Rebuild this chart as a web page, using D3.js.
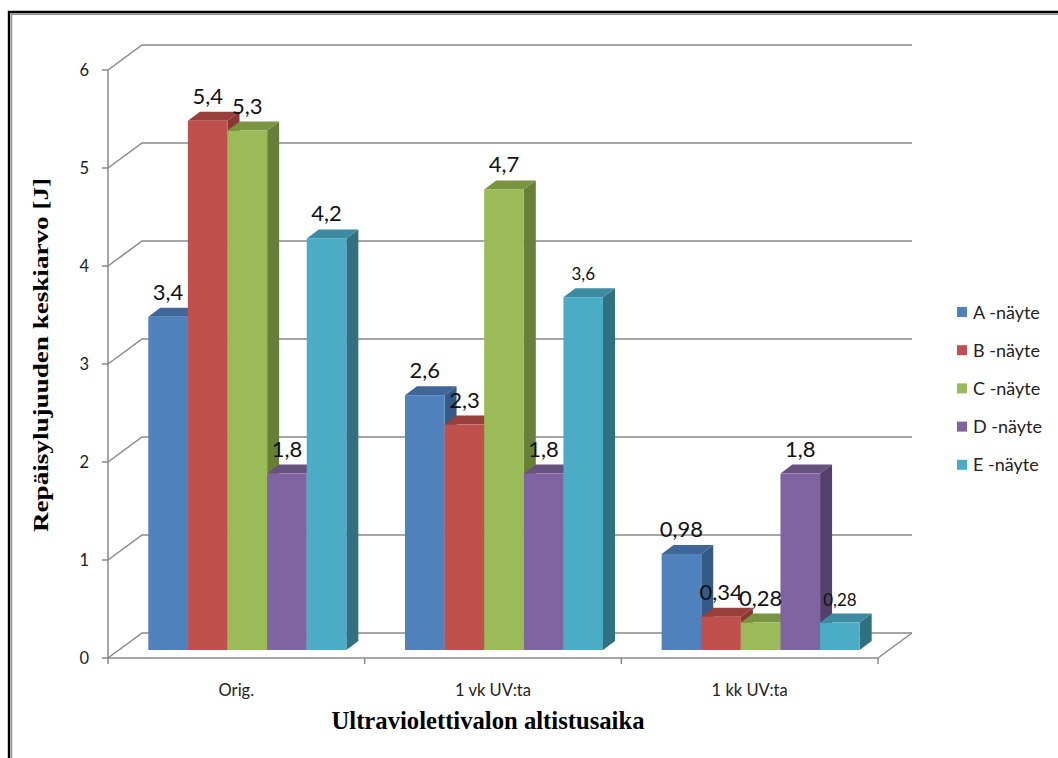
<!DOCTYPE html>
<html>
<head>
<meta charset="utf-8">
<script src="https://cdn.jsdelivr.net/npm/d3@7"></script>
<style>
  html, body { margin: 0; padding: 0; background: #fff; }
  svg { display: block; }
</style>
</head>
<body>
<script>
// Tear strength means per sample after UV exposure
const categories = ["Orig.", "1 vk UV:ta", "1 kk UV:ta"];
const seriesNames = ["A -näyte", "B -näyte", "C -näyte", "D -näyte", "E -näyte"];
const valuesA = [3.4, 2.6, 0.98];
const valuesB = [5.4, 2.3, 0.34];
const valuesC = [5.3, 4.7, 0.28];
const valuesD = [1.8, 1.8, 1.8];
const valuesE = [4.2, 3.6, 0.28];
const yTicks = [0, 1, 2, 3, 4, 5, 6];
const yTitle = "Repäisylujuuden keskiarvo [J]";
const xTitle = "Ultraviolettivalon altistusaika";

const seriesValues = [valuesA, valuesB, valuesC, valuesD, valuesE];
const colors = {
  front: ["#4F81BD", "#C0504D", "#9BBB59", "#8064A2", "#4BACC6"],
  top:   ["#3F6696", "#983F3C", "#7A953F", "#67517F", "#3C8BA0"],
  side:  ["#365A87", "#893735", "#687F38", "#543F6D", "#307080"]
};

const W = 1058, H = 758;
const svg = d3.select("body").append("svg").attr("width", W).attr("height", H);

const locale = d3.formatLocale({decimal: ",", thousands: " ", grouping: [3], currency: ["", " €"]});
const fmt = locale.format("");

// Oblique 3D frame: front plane of the axes, wall depth and bar slab
const wallD = [34, -25];
const barOff = [11, -8];
const barD = [12, -9];

const y = d3.scaleLinear().domain([0, 6]).range([658, 70]);
const x0 = d3.scaleBand().domain(categories).range([108, 878]).padding(0);
const x1 = d3.scaleBand().domain(seriesNames).range([0, x0.bandwidth()]).paddingInner(0).paddingOuter(0.74);

const labelFont = "Lato, 'Open Sans', sans-serif";
const gridColor = "#898989";

// Frame border
svg.append("path").attr("d", `M9,${H + 5} L9,12 L${W + 5},12`)
  .attr("fill", "none").attr("stroke", "#000").attr("stroke-width", 2.4);
svg.append("path").attr("d", `M11.5,${H + 5} L11.5,14.2 L${W + 5},14.2`)
  .attr("fill", "none").attr("stroke", "#8c8c8c").attr("stroke-width", 1.4);

// Gridlines on side wall and back wall
const grid = svg.append("g").attr("fill", "none").attr("stroke", gridColor).attr("stroke-width", 1.5);
yTicks.forEach(t => {
  const yy = y(t);
  grid.append("path").attr("d",
    `M${x0.range()[0]},${yy} L${x0.range()[0] + wallD[0]},${yy + wallD[1]} L${x0.range()[1] + wallD[0]},${yy + wallD[1]}`);
});
// floor right edge
grid.append("path").attr("d",
  `M${x0.range()[1]},${y(0)} L${x0.range()[1] + wallD[0]},${y(0) + wallD[1]}`);

// Value axis (front)
const yAxisG = svg.append("g");
yAxisG.append("line").attr("x1", 108).attr("x2", 108).attr("y1", y(6)).attr("y2", y(0))
  .attr("stroke", gridColor).attr("stroke-width", 1.5);
yTicks.forEach(t => {
  yAxisG.append("line").attr("x1", 102).attr("x2", 108).attr("y1", y(t)).attr("y2", y(t))
    .attr("stroke", gridColor).attr("stroke-width", 1.5);
  yAxisG.append("text").attr("x", 89).attr("y", y(t) + 6)
    .attr("text-anchor", "end").attr("font-family", labelFont).attr("font-size", 16.5)
    .attr("fill", "#222").text(t);
});

// Category axis (front floor edge)
const xAxisG = svg.append("g");
xAxisG.append("line").attr("x1", x0.range()[0]).attr("x2", x0.range()[1]).attr("y1", y(0)).attr("y2", y(0))
  .attr("stroke", gridColor).attr("stroke-width", 1.5);
const boundaries = categories.map(c => x0(c)).concat([x0.range()[1]]);
boundaries.forEach(bx => {
  xAxisG.append("line").attr("x1", bx).attr("x2", bx).attr("y1", y(0)).attr("y2", y(0) + 6)
    .attr("stroke", gridColor).attr("stroke-width", 1.5);
});
categories.forEach(c => {
  xAxisG.append("text").attr("x", x0(c) + x0.bandwidth() / 2).attr("y", 696)
    .attr("text-anchor", "middle").attr("font-family", labelFont).attr("font-size", 16.5)
    .attr("fill", "#222").text(c);
});

// 3D columns
const bars = svg.append("g");
const labels = [];
categories.forEach((c, ci) => {
  seriesNames.forEach((s, si) => {
    const v = seriesValues[si][ci];
    const w = x1.bandwidth();
    const xf = x0(c) + x1(s) + barOff[0];
    const yb = y(0) + barOff[1];
    const yt = y(v) + barOff[1];
    bars.append("path")
      .attr("d", `M${xf + w},${yt} L${xf + w + barD[0]},${yt + barD[1]} L${xf + w + barD[0]},${yb + barD[1]} L${xf + w},${yb} Z`)
      .attr("fill", colors.side[si]);
    bars.append("path")
      .attr("d", `M${xf},${yt} L${xf + w},${yt} L${xf + w + barD[0]},${yt + barD[1]} L${xf + barD[0]},${yt + barD[1]} Z`)
      .attr("fill", colors.top[si]);
    bars.append("rect").attr("x", xf).attr("y", yt).attr("width", w).attr("height", yb - yt)
      .attr("fill", colors.front[si]);
    labels.push({x: xf + w / 2, y: yt - 17, text: fmt(v), small: (si === 4 && ci > 0)});
  });
});

// Data labels
svg.append("g").selectAll("text").data(labels).join("text")
  .attr("x", d => d.x).attr("y", d => d.y)
  .attr("text-anchor", "middle").attr("font-family", labelFont)
  .attr("font-size", d => d.small ? 17 : 22).attr("fill", "#111")
  .text(d => d.text);

// Axis titles
svg.append("text")
  .attr("transform", `translate(48,355) rotate(-90)`)
  .attr("text-anchor", "middle").attr("font-family", "'Liberation Serif', 'Times New Roman', serif")
  .attr("font-weight", "bold").attr("font-size", 20.5)
  .attr("textLength", 354).attr("lengthAdjust", "spacingAndGlyphs")
  .text(yTitle);
svg.append("text")
  .attr("x", 488).attr("y", 729)
  .attr("text-anchor", "middle").attr("font-family", "'Liberation Serif', 'Times New Roman', serif")
  .attr("font-weight", "bold").attr("font-size", 25)
  .attr("textLength", 313).attr("lengthAdjust", "spacingAndGlyphs")
  .text(xTitle);

// Legend
const legend = svg.append("g");
seriesNames.forEach((s, i) => {
  const cy = 312 + i * 38.2;
  legend.append("rect").attr("x", 957).attr("y", cy - 5).attr("width", 10).attr("height", 10)
    .attr("fill", colors.front[i]);
  legend.append("text").attr("x", 973).attr("y", cy + 6.5)
    .attr("font-family", labelFont).attr("font-size", 18).attr("fill", "#222").text(s);
});
</script>
</body>
</html>
